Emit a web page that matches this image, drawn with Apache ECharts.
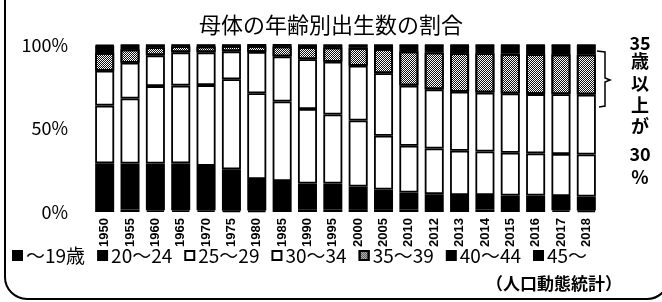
<!DOCTYPE html>
<html>
<head>
<meta charset="utf-8">
<script src="https://cdn.jsdelivr.net/npm/echarts@6/dist/echarts.min.js"></script>
<style>
  html, body { margin: 0; padding: 0; background: #fff; }
  #main { width: 662px; height: 302px; }
</style>
</head>
<body>
<div id="main"></div>
<script>
var years = ['1950', '1955', '1960', '1965', '1970', '1975', '1980', '1985', '1990', '1995',
  '2000', '2005', '2010', '2012', '2013', '2014', '2015', '2016', '2017', '2018'];
var ageNames = ['～19歳', '20～24', '25～29', '30～34', '35～39', '40～44', '45～'];
// percent of births by mother's age
var age19 = [2.4, 1.5, 1.0, 1.0, 1.0, 0.8, 0.9, 1.2, 1.4, 1.3, 1.7, 1.7, 1.3, 1.2, 1.2, 1.3, 1.2, 1.2, 1.0, 0.9];
var age20 = [26.8, 27.5, 28.0, 28.1, 26.6, 24.8, 18.8, 17.3, 15.7, 15.8, 13.6, 11.8, 10.4, 9.5, 9.0, 8.9, 8.7, 8.7, 8.6, 8.4];
var age25 = [34.5, 39.0, 46.4, 46.6, 48.4, 53.9, 51.4, 47.7, 44.6, 41.3, 39.5, 32.2, 28.0, 27.3, 26.5, 26.0, 25.6, 25.2, 25.1, 25.1];
var age30 = [20.9, 21.4, 18.4, 19.9, 19.6, 16.7, 24.7, 26.9, 29.8, 31.6, 32.8, 37.4, 36.0, 35.4, 35.3, 35.3, 35.5, 35.5, 35.8, 35.9];
var age35 = [10.6, 8.0, 4.9, 3.7, 3.6, 3.2, 3.7, 6.1, 7.3, 8.6, 10.7, 14.5, 20.5, 22.1, 23.1, 23.6, 23.7, 23.9, 23.9, 24.0];
var age40 = [4.4, 2.4, 1.2, 0.6, 0.7, 0.5, 0.5, 0.8, 1.1, 1.3, 1.6, 2.3, 3.6, 4.3, 4.7, 4.7, 5.1, 5.3, 5.4, 5.5];
var age45 = [0.4, 0.2, 0.1, 0.1, 0.1, 0.1, 0.0, 0.0, 0.1, 0.1, 0.1, 0.1, 0.2, 0.2, 0.2, 0.2, 0.2, 0.2, 0.2, 0.2];
var sideText = ['35', '歳', '以', '上', 'が', '30', '%'];

var jp = '"Noto Sans CJK JP", sans-serif';
var allData = [age19, age20, age25, age30, age35, age40, age45];
var fills = ['#000', '#000', '#fff', '#fff', '#fff', '#000', '#000'];

var chart = echarts.init(document.getElementById('main'));

var series = allData.map(function (d, i) {
  var style = {
    color: fills[i],
    borderColor: '#000',
    borderWidth: 1.8
  };
  if (i === 4) {
    // speckled grey of the 35-39 band
    style.decal = {
      symbol: 'rect',
      symbolSize: 1,
      dashArrayX: [[1, 1], [0, 1, 1, 0]],
      dashArrayY: [1, 0],
      color: '#111',
      rotation: 0
    };
  }
  return {
    name: ageNames[i],
    type: 'bar',
    stack: 'total',
    barCategoryGap: '25%',
    itemStyle: style,
    emphasis: { disabled: true },
    data: d
  };
});

var sideY = [43, 61, 83, 105, 126, 154, 177];
var graphics = [
  {
    type: 'rect',
    shape: { x: 5, y: -30, width: 664, height: 329, r: 22 },
    style: { fill: 'none', stroke: '#000', lineWidth: 2 }
  },
  {
    type: 'polyline',
    shape: { points: [[597, 51], [605, 52], [605, 78], [610, 80], [605, 82], [605, 106], [599, 107]] },
    style: { fill: 'none', stroke: '#000', lineWidth: 1.5 }
  },
  {
    type: 'text',
    x: 486,
    y: 284,
    style: { text: '（人口動態統計）', font: 'bold 17px ' + jp, fill: '#000', verticalAlign: 'middle' }
  }
];
sideText.forEach(function (t, i) {
  graphics.push({
    type: 'text',
    x: 640,
    y: sideY[i],
    style: {
      text: t,
      font: 'bold 18px ' + jp,
      fill: '#000',
      align: 'center',
      verticalAlign: 'middle'
    }
  });
});

chart.setOption({
  animation: false,
  title: {
    text: '母体の年齢別出生数の割合',
    left: 'center',
    top: 9,
    textStyle: { fontFamily: jp, fontSize: 22, fontWeight: 'normal', color: '#000' }
  },
  legend: {
    data: ageNames,
    left: 12,
    top: 246,
    padding: 0,
    itemWidth: 9,
    itemHeight: 9,
    itemGap: 12,
    icon: 'rect',
    selectedMode: false,
    textStyle: { fontFamily: jp, fontSize: 19, color: '#000', padding: [0, 0, 0, -1] }
  },
  grid: { left: 92, right: 63, top: 45, height: 167 },
  xAxis: {
    type: 'category',
    data: years,
    axisLine: { show: false },
    axisTick: { show: false },
    axisLabel: {
      rotate: 90,
      margin: 6,
      fontSize: 13,
      fontWeight: 'bold',
      fontFamily: 'Liberation Sans',
      color: '#000'
    }
  },
  yAxis: {
    type: 'value',
    min: 0,
    max: 100,
    interval: 50,
    splitLine: { show: false },
    axisLine: { show: false },
    axisTick: { show: false },
    axisLabel: {
      formatter: '{value}%',
      margin: 24,
      fontSize: 18,
      fontFamily: jp,
      color: '#000'
    }
  },
  graphic: graphics,
  series: series
});
</script>
</body>
</html>
